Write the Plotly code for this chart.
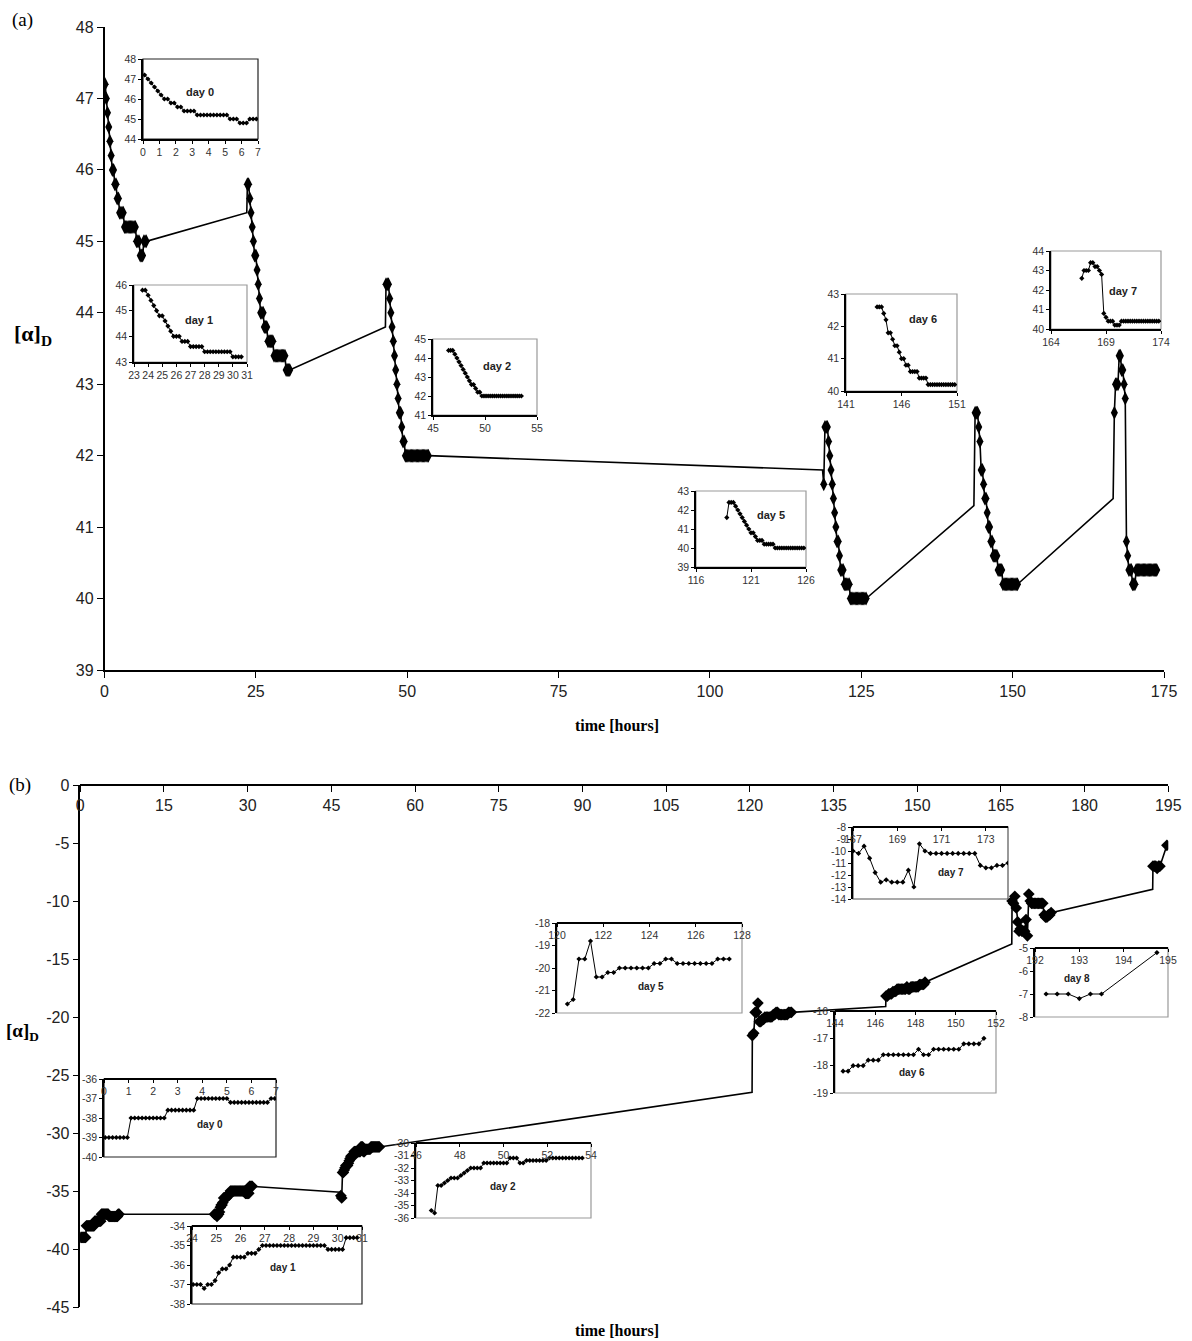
import plotly.graph_objects as go

W, H = 1192, 1341

# ---------------- panel (a) data ----------------
a_d0_t = [0.1, 0.3, 0.5, 0.7, 0.9, 1.1, 1.3, 1.5, 1.7, 1.9, 2.1, 2.3, 2.5, 2.7, 2.9, 3.1, 3.3, 3.5, 3.7, 3.9,
          4.1, 4.3, 4.5, 4.7, 4.9, 5.1, 5.3, 5.5, 5.7, 5.9, 6.1, 6.3, 6.5, 6.7, 6.9]
a_d0_v = [47.2, 47.0, 46.8, 46.6, 46.4, 46.2, 46.0, 46.0, 45.8, 45.8, 45.6, 45.6, 45.4, 45.4, 45.4, 45.4, 45.2, 45.2,
          45.2, 45.2, 45.2, 45.2, 45.2, 45.2, 45.2, 45.2, 45.0, 45.0, 45.0, 44.8, 44.8, 44.8, 45.0, 45.0, 45.0]

a_d1_t = [23.6, 23.8, 24.0, 24.2, 24.4, 24.6, 24.8, 25.0, 25.2, 25.4, 25.6, 25.8, 26.0, 26.2, 26.4, 26.6, 26.8, 27.0,
          27.2, 27.4, 27.6, 27.8, 28.0, 28.2, 28.4, 28.6, 28.8, 29.0, 29.2, 29.4, 29.6, 29.8, 30.0, 30.2, 30.4, 30.6]
a_d1_v = [45.8, 45.8, 45.6, 45.4, 45.2, 45.0, 44.8, 44.8, 44.6, 44.4, 44.2, 44.0, 44.0, 44.0, 43.8, 43.8, 43.8, 43.6,
          43.6, 43.6, 43.6, 43.6, 43.4, 43.4, 43.4, 43.4, 43.4, 43.4, 43.4, 43.4, 43.4, 43.4, 43.2, 43.2, 43.2, 43.2]

a_d2_t = [46.5, 46.7, 46.9, 47.1, 47.3, 47.5, 47.7, 47.9, 48.1, 48.3, 48.5, 48.7, 48.9, 49.1, 49.3, 49.5, 49.7, 49.9,
          50.1, 50.3, 50.5, 50.7, 50.9, 51.1, 51.3, 51.5, 51.7, 51.9, 52.1, 52.3, 52.5, 52.7, 52.9, 53.1, 53.3, 53.5]
a_d2_v = [44.4, 44.4, 44.4, 44.2, 44.0, 43.8, 43.6, 43.4, 43.2, 43.0, 42.8, 42.6, 42.6, 42.4, 42.2, 42.2, 42.0, 42.0,
          42.0, 42.0, 42.0, 42.0, 42.0, 42.0, 42.0, 42.0, 42.0, 42.0, 42.0, 42.0, 42.0, 42.0, 42.0, 42.0, 42.0, 42.0]

a_d5_t = [118.8, 119.0, 119.2, 119.4, 119.6, 119.8, 120.0, 120.2, 120.4, 120.6, 120.8, 121.0, 121.2, 121.4, 121.6,
          121.8, 122.0, 122.2, 122.4, 122.6, 122.8, 123.0, 123.2, 123.4, 123.6, 123.8, 124.0, 124.2, 124.4, 124.6,
          124.8, 125.0, 125.2, 125.4, 125.6, 125.8]
a_d5_v = [41.6, 42.4, 42.4, 42.4, 42.2, 42.0, 41.8, 41.6, 41.4, 41.2, 41.0, 40.8, 40.8, 40.6, 40.4, 40.4, 40.4, 40.2,
          40.2, 40.2, 40.2, 40.2, 40.0, 40.0, 40.0, 40.0, 40.0, 40.0, 40.0, 40.0, 40.0, 40.0, 40.0, 40.0, 40.0, 40.0]

a_d6_t = [143.8, 144.0, 144.2, 144.4, 144.6, 144.8, 145.0, 145.2, 145.4, 145.6, 145.8, 146.0, 146.2, 146.4, 146.6,
          146.8, 147.0, 147.2, 147.4, 147.6, 147.8, 148.0, 148.2, 148.4, 148.6, 148.8, 149.0, 149.2, 149.4, 149.6,
          149.8, 150.0, 150.2, 150.4, 150.6, 150.8]
a_d6_v = [42.6, 42.6, 42.6, 42.4, 42.2, 41.8, 41.8, 41.6, 41.4, 41.4, 41.2, 41.0, 41.0, 40.8, 40.8, 40.6, 40.6, 40.6,
          40.6, 40.4, 40.4, 40.4, 40.4, 40.2, 40.2, 40.2, 40.2, 40.2, 40.2, 40.2, 40.2, 40.2, 40.2, 40.2, 40.2, 40.2]

a_d7_t = [166.8, 167.0, 167.2, 167.4, 167.6, 167.8, 168.0, 168.2, 168.4, 168.6, 168.8, 169.0, 169.2, 169.4, 169.6,
          169.8, 170.0, 170.2, 170.4, 170.6, 170.8, 171.0, 171.2, 171.4, 171.6, 171.8, 172.0, 172.2, 172.4, 172.6,
          172.8, 173.0, 173.2, 173.4, 173.6, 173.8]
a_d7_v = [42.6, 43.0, 43.0, 43.0, 43.4, 43.4, 43.2, 43.2, 43.0, 42.8, 40.8, 40.6, 40.4, 40.4, 40.4, 40.2, 40.2, 40.2,
          40.4, 40.4, 40.4, 40.4, 40.4, 40.4, 40.4, 40.4, 40.4, 40.4, 40.4, 40.4, 40.4, 40.4, 40.4, 40.4, 40.4, 40.4]

# connecting (unmarked) line vertices between measuring days
a_link_t = [23.5, 46.4, 118.6, 143.6, 166.6]
a_link_v = [45.4, 43.8, 41.8, 41.3, 41.4]

# ---------------- panel (b) data ----------------
b_d0_t = [0.05, 0.2, 0.35, 0.5, 0.65, 0.8, 0.95, 1.1, 1.25, 1.4, 1.55, 1.7, 1.85, 2.0, 2.15, 2.3, 2.45, 2.6, 2.75,
          2.9, 3.05, 3.2, 3.35, 3.5, 3.65, 3.8, 3.95, 4.1, 4.25, 4.4, 4.55, 4.7, 4.85, 5.0, 5.15, 5.3, 5.45, 5.6,
          5.75, 5.9, 6.05, 6.2, 6.35, 6.5, 6.65, 6.8, 6.95]
b_d0_v = [-39, -39, -39, -39, -39, -39, -39, -38, -38, -38, -38, -38, -38, -38, -38, -38, -38, -37.6, -37.6,
          -37.6, -37.6, -37.6, -37.6, -37.6, -37.6, -37, -37, -37, -37, -37, -37, -37, -37, -37, -37.2, -37.2,
          -37.2, -37.2, -37.2, -37.2, -37.2, -37.2, -37.2, -37.2, -37.2, -37, -37]

b_d1_t = [24.05, 24.2, 24.35, 24.5, 24.65, 24.8, 24.95, 25.1, 25.25, 25.4, 25.55, 25.7, 25.85, 26.0, 26.15, 26.3,
          26.45, 26.6, 26.75, 26.9, 27.05, 27.2, 27.35, 27.5, 27.65, 27.8, 27.95, 28.1, 28.25, 28.4, 28.55, 28.7,
          28.85, 29.0, 29.15, 29.3, 29.45, 29.6, 29.75, 29.9, 30.05, 30.2, 30.35, 30.5, 30.65, 30.8]
b_d1_v = [-37, -37, -37, -37.2, -37, -37, -36.8, -36.4, -36.2, -36.2, -36.0, -35.6, -35.6, -35.6, -35.6, -35.4,
          -35.4, -35.4, -35.2, -35, -35, -35, -35, -35, -35, -35, -35, -35, -35, -35, -35, -35, -35, -35, -35, -35,
          -35, -35.2, -35.2, -35.2, -35.2, -35.2, -34.6, -34.6, -34.6, -34.6]

b_d2_t = [46.7, 46.85, 47.0, 47.15, 47.3, 47.45, 47.6, 47.75, 47.9, 48.05, 48.2, 48.35, 48.5, 48.65, 48.8, 48.95,
          49.1, 49.25, 49.4, 49.55, 49.7, 49.85, 50.0, 50.15, 50.3, 50.45, 50.6, 50.75, 50.9, 51.05, 51.2, 51.35,
          51.5, 51.65, 51.8, 51.95, 52.1, 52.25, 52.4, 52.55, 52.7, 52.85, 53.0, 53.15, 53.3, 53.45, 53.6]
b_d2_v = [-35.4, -35.6, -33.4, -33.4, -33.2, -33.0, -32.8, -32.8, -32.8, -32.6, -32.4, -32.2, -32.0, -32.0, -32.0,
          -32.0, -31.6, -31.6, -31.6, -31.6, -31.6, -31.6, -31.6, -31.6, -31.2, -31.2, -31.2, -31.6, -31.6, -31.4,
          -31.4, -31.4, -31.4, -31.4, -31.4, -31.4, -31.2, -31.2, -31.2, -31.2, -31.2, -31.2, -31.2, -31.2, -31.2,
          -31.2, -31.2]

b_d5_t = [120.45, 120.7, 120.95, 121.2, 121.45, 121.7, 121.95, 122.2, 122.45, 122.7, 122.95, 123.2, 123.45, 123.7,
          123.95, 124.2, 124.45, 124.7, 124.95, 125.2, 125.45, 125.7, 125.95, 126.2, 126.45, 126.7, 126.95, 127.2,
          127.45]
b_d5_v = [-21.6, -21.4, -19.6, -19.6, -18.8, -20.4, -20.4, -20.2, -20.2, -20.0, -20.0, -20.0, -20.0, -20.0, -20.0,
          -19.8, -19.8, -19.6, -19.6, -19.8, -19.8, -19.8, -19.8, -19.8, -19.8, -19.8, -19.6, -19.6, -19.6]

b_d6_t = [144.4, 144.65, 144.9, 145.15, 145.4, 145.65, 145.9, 146.15, 146.4, 146.65, 146.9, 147.15, 147.4, 147.65,
          147.9, 148.15, 148.4, 148.65, 148.9, 149.15, 149.4, 149.65, 149.9, 150.15, 150.4, 150.65, 150.9, 151.15,
          151.4]
b_d6_v = [-18.2, -18.2, -18.0, -18.0, -18.0, -17.8, -17.8, -17.8, -17.6, -17.6, -17.6, -17.6, -17.6, -17.6, -17.6,
          -17.4, -17.6, -17.6, -17.4, -17.4, -17.4, -17.4, -17.4, -17.4, -17.2, -17.2, -17.2, -17.2, -17.0]

b_d7_t = [167.0, 167.25, 167.5, 167.75, 168.0, 168.25, 168.5, 168.75, 169.0, 169.25, 169.5, 169.75, 170.0, 170.25,
          170.5, 170.75, 171.0, 171.25, 171.5, 171.75, 172.0, 172.25, 172.5, 172.75, 173.0, 173.25, 173.5, 173.75,
          174.0]
b_d7_v = [-10.0, -10.2, -9.6, -10.6, -11.8, -12.6, -12.4, -12.6, -12.6, -12.6, -11.6, -13.0, -9.4, -10.0, -10.2,
          -10.2, -10.2, -10.2, -10.2, -10.2, -10.2, -10.2, -10.2, -11.2, -11.4, -11.4, -11.2, -11.2, -11.0]

b_d8_t = [192.25, 192.5, 192.75, 193.0, 193.25, 193.5, 194.75]
b_d8_v = [-7.0, -7.0, -7.0, -7.2, -7.0, -7.0, -5.2]

b_link_t = [46.6, 120.4, 144.35, 166.95, 192.2]
b_link_v = [-35.1, -26.5, -19.1, -13.7, -9.0]

# ---------------- tick labels ----------------
a_xticks = [0, 25, 50, 75, 100, 125, 150, 175]
a_yticks = [39, 40, 41, 42, 43, 44, 45, 46, 47, 48]
b_xticks = [0, 15, 30, 45, 60, 75, 90, 105, 120, 135, 150, 165, 180, 195]
b_yticks = [0, -5, -10, -15, -20, -25, -30, -35, -40, -45]
b_yticktext = ["0", "-5", "-10", "-15", "-20", "-25", "-30", "-35", "-40", "-45"]

day_labels_a = ["day 0", "day 1", "day 2", "day 5", "day 6", "day 7"]
day_labels_b = ["day 0", "day 1", "day 2", "day 5", "day 6", "day 7", "day 8"]

# ---------------- helpers ----------------
def xdom(p0, p1):
    return [p0 / W, p1 / W]


def ydom(top, bot):
    return [1 - bot / H, 1 - top / H]


def neg_text(vals):
    return [("-" + str(abs(v))) if v < 0 else str(v) for v in vals]


TICKFONT = "Liberation Sans, Arial, sans-serif"
SERIF = "Liberation Serif, Times New Roman, serif"

fig = go.Figure()
layout = dict(width=W, height=H, margin=dict(l=0, r=0, t=0, b=0, autoexpand=False),
              paper_bgcolor="white", plot_bgcolor="rgba(0,0,0,0)", showlegend=False, template="none")
shapes = []
annotations = []

# ---------------- main panel (a) ----------------
a_days = [(a_d0_t, a_d0_v), (a_d1_t, a_d1_v), (a_d2_t, a_d2_v), (a_d5_t, a_d5_v), (a_d6_t, a_d6_v),
          (a_d7_t, a_d7_v)]
line_t, line_v, mk_t, mk_v = [], [], [], []
for i, (t, v) in enumerate(a_days):
    if i > 0:
        line_t.append(a_link_t[i - 1]); line_v.append(a_link_v[i - 1])
    line_t += t; line_v += v
    mk_t += t; mk_v += v
fig.add_trace(go.Scatter(x=line_t, y=line_v, mode="lines", line=dict(color="black", width=1.6),
                         xaxis="x", yaxis="y", hoverinfo="skip"))
fig.add_trace(go.Scatter(x=mk_t, y=mk_v, mode="markers",
                         marker=dict(symbol="diamond-tall", size=10, color="black", line=dict(width=0)),
                         xaxis="x", yaxis="y"))
layout["xaxis"] = dict(domain=xdom(104.5, 1164), range=[0, 175], tickvals=a_xticks, ticks="outside",
                       ticklen=6, tickcolor="black", showline=True, linecolor="black", linewidth=1.5,
                       showgrid=False, zeroline=False, anchor="y", automargin=False,
                       tickfont=dict(family=TICKFONT, size=16, color="#222"))
layout["yaxis"] = dict(domain=ydom(27, 670), range=[39, 48], tickvals=a_yticks, ticks="outside",
                       ticklen=6, tickcolor="black", showline=True, linecolor="black", linewidth=1.5,
                       showgrid=False, zeroline=False, anchor="x", automargin=False,
                       tickfont=dict(family=TICKFONT, size=16, color="#222"))

# ---------------- main panel (b) ----------------
b_days = [(b_d0_t, b_d0_v), (b_d1_t, b_d1_v), (b_d2_t, b_d2_v), (b_d5_t, b_d5_v), (b_d6_t, b_d6_v),
          (b_d7_t, b_d7_v), (b_d8_t, b_d8_v)]
line_t, line_v, mk_t, mk_v = [], [], [], []
for i, (t, v) in enumerate(b_days):
    if i > 1:
        line_t.append(b_link_t[i - 2]); line_v.append(b_link_v[i - 2])
    line_t += t; line_v += v
    mk_t += t; mk_v += v
fig.add_trace(go.Scatter(x=line_t, y=line_v, mode="lines", line=dict(color="black", width=1.6),
                         xaxis="x2", yaxis="y2", hoverinfo="skip"))
fig.add_trace(go.Scatter(x=mk_t, y=mk_v, mode="markers",
                         marker=dict(symbol="diamond", size=9, color="black", line=dict(width=0)),
                         xaxis="x2", yaxis="y2"))
# x axis lies along y = 0 (top edge); labels hang below the line
layout["xaxis2"] = dict(domain=xdom(80.3, 1168.3), range=[0, 195], tickvals=b_xticks, side="bottom",
                        anchor="free", position=1 - 785 / H,
                        ticks="outside", ticklen=6, tickcolor="black",
                        showline=True, linecolor="black", linewidth=1.5, showgrid=False, zeroline=False,
                        automargin=False, tickfont=dict(family=TICKFONT, size=16, color="#222"))
layout["yaxis2"] = dict(domain=ydom(785, 1307), range=[-45, 0], tickvals=b_yticks, ticktext=b_yticktext,
                        ticks="outside", ticklen=6, tickcolor="black", showline=True, linecolor="black",
                        linewidth=1.5, showgrid=False, zeroline=False, anchor="x2", automargin=False,
                        tickfont=dict(family=TICKFONT, size=16, color="#222"))

# ---------------- insets ----------------
# (box left, right, top, bottom in px), x range, x dtick, tick0, y range, border colour, label position
a_insets = [
    ((143, 258, 59, 139), [0, 7], 1, 0, [44, 48], "#222", (200, 92)),
    ((134, 247, 285, 362), [23, 31], 1, 23, [43, 46], "#999", (199, 320)),
    ((433, 537, 339, 415), [45, 55], 5, 45, [41, 45], "#999", (497, 366)),
    ((696, 806, 491, 567), [116, 126], 5, 116, [39, 43], "#999", (771, 515)),
    ((846, 957, 294, 391), [141, 151], 5, 141, [40, 43], "#999", (923, 319)),
    ((1051, 1161, 251, 329), [164, 174], 5, 164, [40, 44], "#999", (1123, 291)),
]
b_insets = [
    ((104, 276, 1079, 1157), [0, 7], 1, 0, [-40, -36], "#222", (210, 1124)),
    ((192, 362, 1226, 1304), [24, 31], 1, 24, [-38, -34], "#222", (283, 1267)),
    ((416, 591, 1143, 1218), [46, 54], 2, 46, [-36, -30], "#999", (503, 1186)),
    ((557, 742, 923, 1013), [120, 128], 2, 120, [-22, -18], "#999", (651, 986)),
    ((835, 996, 1011, 1093), [144, 152], 2, 144, [-19, -16], "#999", (912, 1072)),
    ((853, 1008, 827, 899), [167, 174], 2, 167, [-14, -8], "#555", (951, 872)),
    ((1035, 1168, 948, 1017), [192, 195], 1, 192, [-8, -5], "#999", (1077, 978)),
]

ax = 3
for panel, insets, days, labels in (("a", a_insets, a_days, day_labels_a), ("b", b_insets, b_days, day_labels_b)):
    for (box, xr, xdt, x0, yr, bcol, lab), (t, v), label in zip(insets, days, labels):
        l, r, tp, bt = box
        xn, yn = "x%d" % ax, "y%d" % ax
        fig.add_trace(go.Scatter(x=t, y=v, mode="lines+markers", line=dict(color="black", width=1),
                                 marker=dict(symbol="diamond", size=4, color="black", line=dict(width=0)),
                                 xaxis=xn, yaxis=yn))
        yvals = list(range(int(yr[0]), int(yr[1]) + 1))
        xa = dict(domain=xdom(l, r), range=xr, tick0=x0, dtick=xdt, showline=True, linecolor="black",
                  linewidth=1.5, showgrid=False, zeroline=False, tickcolor="black", ticklen=3,
                  ticks="outside", side="bottom", automargin=False,
                  tickfont=dict(family=TICKFONT, size=10.5, color="#333"))
        ya = dict(domain=ydom(tp, bt), range=yr, tickvals=yvals, ticktext=neg_text(yvals), showline=True,
                  linecolor="black", linewidth=1.5, showgrid=False, zeroline=False, anchor=xn,
                  ticks="outside", tickcolor="black", ticklen=3, automargin=False,
                  tickfont=dict(family=TICKFONT, size=10.5, color="#333"))
        if panel == "a":
            xa.update(anchor=yn)
        else:
            # axis drawn along the top edge, labels inside the box
            xa.update(anchor="free", position=1 - tp / H)
        layout["xaxis%d" % ax] = xa
        layout["yaxis%d" % ax] = ya
        shapes.append(dict(type="rect", xref="paper", yref="paper", x0=l / W, x1=r / W,
                           y0=1 - bt / H, y1=1 - tp / H, line=dict(color=bcol, width=1.2),
                           fillcolor="rgba(0,0,0,0)", layer="below"))
        annotations.append(dict(x=lab[0] / W, y=1 - lab[1] / H, xref="paper", yref="paper",
                                xanchor="center", yanchor="middle",
                                text="<b>%s</b>" % label, showarrow=False,
                                font=dict(family=TICKFONT, size=11 if panel == "a" else 10, color="#222")))
        ax += 1

# ---------------- titles ----------------
title_specs = [
    (22, 20, "(a)", SERIF, 19),
    (20, 785, "(b)", SERIF, 19),
    (617, 725, "<b>time [hours]</b>", SERIF, 16),
    (617, 1330, "<b>time [hours]</b>", SERIF, 16),
    (33, 335, "<b>[α]<sub>D</sub></b>", SERIF, 22),
    (22, 1032, "<b>[α]<sub>D</sub></b>", SERIF, 19),
]
for px, py, txt, fam, sz in title_specs:
    annotations.append(dict(x=px / W, y=1 - py / H, xref="paper", yref="paper", xanchor="center",
                            yanchor="middle", text=txt, showarrow=False,
                            font=dict(family=fam, size=sz, color="black")))

layout["shapes"] = shapes
layout["annotations"] = annotations
fig.update_layout(**layout)
# the page's default 8px body margin would shift the figure; remove it so it sits at the window origin
fig.write_html("out.html", config={"displayModeBar": False},
               post_script="document.body.style.margin='0';document.body.style.padding='0';"
                           "document.body.style.overflow='hidden';")
